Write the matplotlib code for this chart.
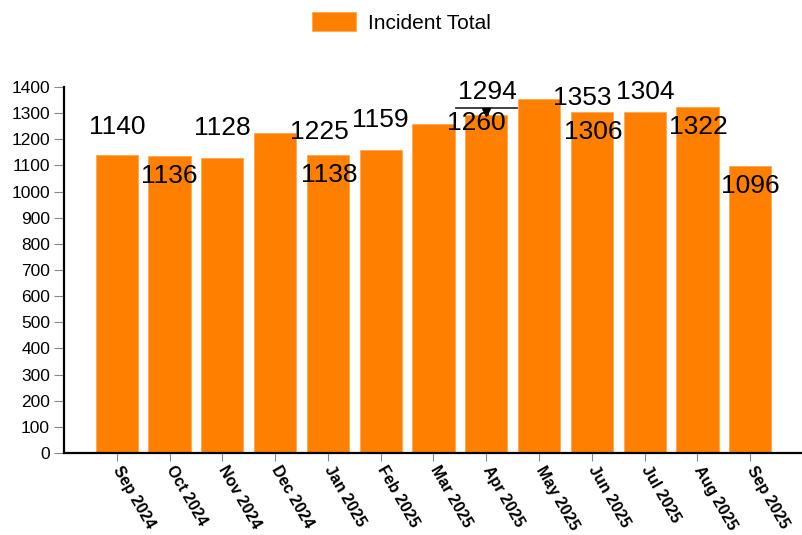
import matplotlib.pyplot as plt
from matplotlib.transforms import offset_copy

plt.rcParams['font.family'] = ['Liberation Sans', 'DejaVu Sans']

months = ['Sep 2024', 'Oct 2024', 'Nov 2024', 'Dec 2024', 'Jan 2025', 'Feb 2025',
          'Mar 2025', 'Apr 2025', 'May 2025', 'Jun 2025', 'Jul 2025', 'Aug 2025', 'Sep 2025']
totals = [1140, 1136, 1128, 1225, 1138, 1159, 1260, 1294, 1353, 1306, 1304, 1322, 1096]

# where each value label sits, in pixels from the top centre of its bar
label_dx = [0, 0, 0, 44, 1, 0, 43, 1, 43, 1, 1, 1, 0]
label_dy = [28, -20, 30, 1, -20, 30, 1, 23, 1, -20, 20, -20, -20]

fig = plt.figure(figsize=(8.03, 5.35), dpi=100)
ax = fig.add_axes([0.0797, 0.1533, 0.9203, 0.6841])

x = range(len(months))
ax.bar(x, totals, width=0.8, color='#ff8000', edgecolor='#ffa64d', linewidth=0.6,
       label='Incident Total')

for i, v in enumerate(totals):
    ax.annotate(str(v), (i, v), xytext=(label_dx[i], label_dy[i]), textcoords='offset pixels',
                ha='center', va='center', fontsize=19)

# marker line above April
apr = months.index('Apr 2025')
tr = offset_copy(ax.transData, fig=fig, y=7, units='dots')
ax.plot([apr - 0.58, apr + 0.58], [totals[apr]] * 2, color='#333333', lw=1.3, transform=tr)
tr2 = offset_copy(ax.transData, fig=fig, y=3, units='dots')
ax.plot([apr], [totals[apr]], marker='v', color='black', markersize=6, transform=tr2)

ax.set_xlim(-1, 13)
ax.set_ylim(0, 1400)
ax.set_yticks(range(0, 1401, 100))
ax.set_xticks(list(x))
ax.set_xticklabels(months, rotation=-60, ha='left', va='center', rotation_mode='anchor',
                   fontweight='bold', fontsize=11.5)
ax.tick_params(axis='x', length=6, color='#888888', pad=4)
ax.tick_params(axis='y', length=7, color='#888888', labelsize=12.5, pad=3)

for s in ['top', 'right']:
    ax.spines[s].set_visible(False)
for s in ['left', 'bottom']:
    ax.spines[s].set_linewidth(1.6)

fig.legend(loc='upper center', bbox_to_anchor=(0.5, 1.012), frameon=False, fontsize=15,
           handlelength=2.1, handleheight=1.0, handletextpad=0.6)

fig.savefig('out.png', dpi=100)
